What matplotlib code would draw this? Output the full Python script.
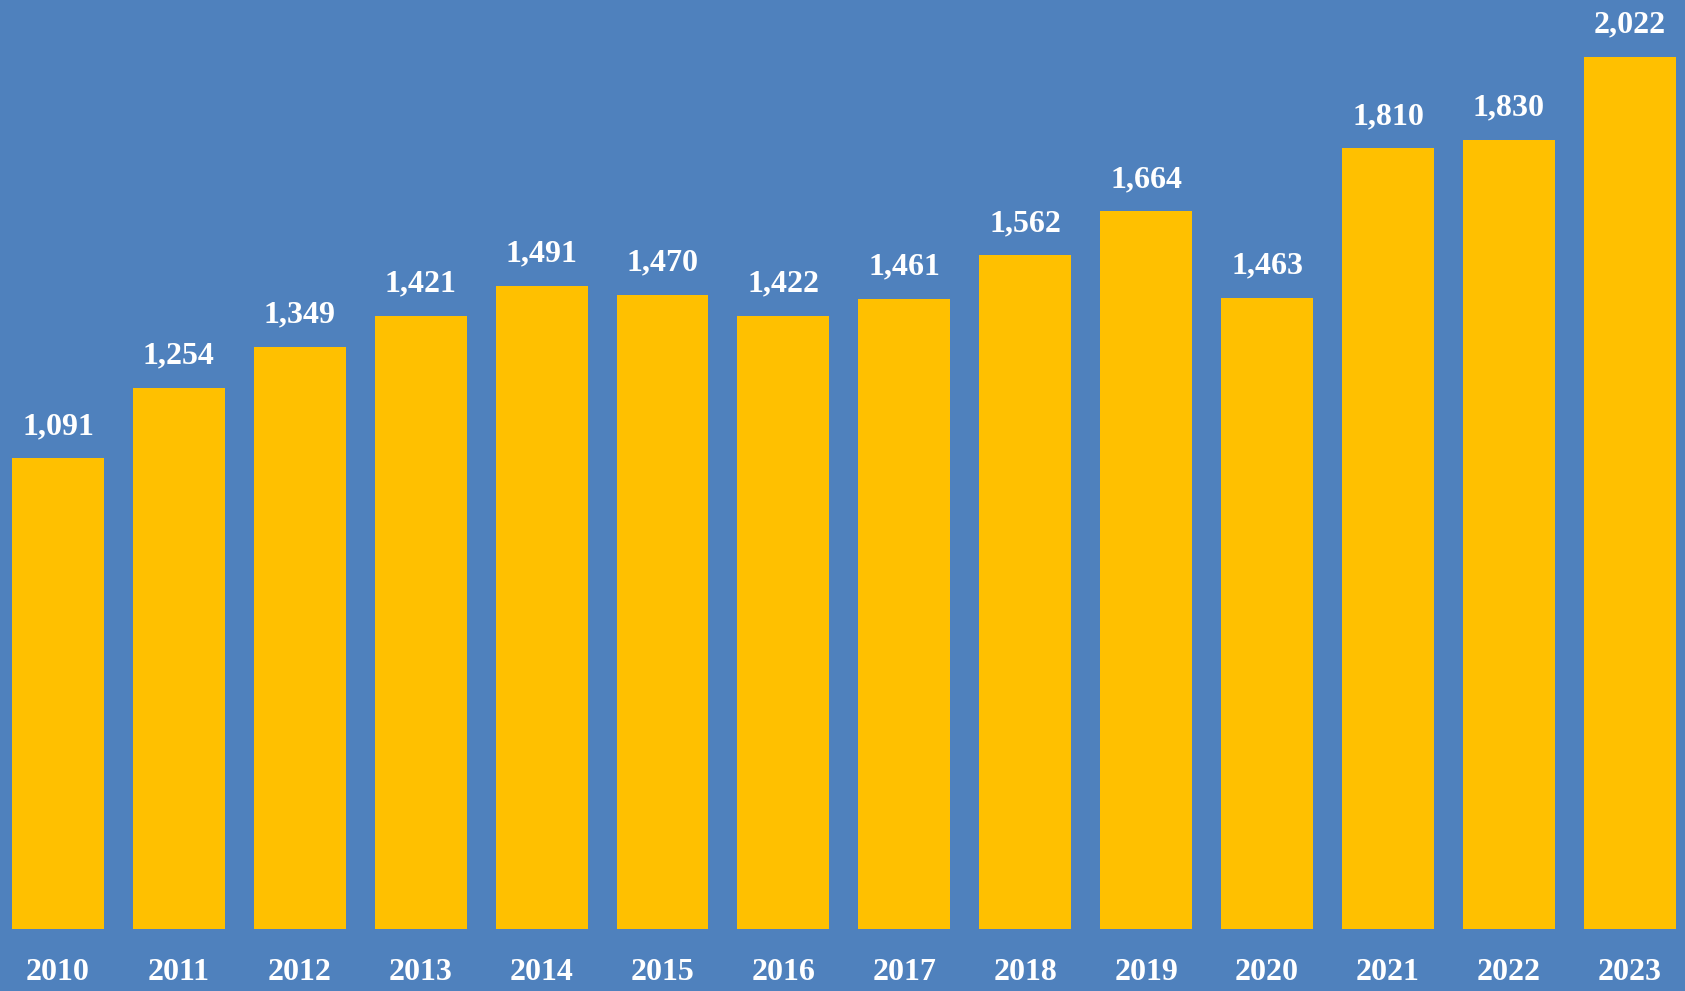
import matplotlib.pyplot as plt
from matplotlib.ticker import NullLocator

years = ['2010', '2011', '2012', '2013', '2014', '2015', '2016',
         '2017', '2018', '2019', '2020', '2021', '2022', '2023']
values = [1091, 1254, 1349, 1421, 1491, 1470, 1422,
          1461, 1562, 1664, 1463, 1810, 1830, 2022]

bg = '#4F81BD'
bar_color = '#FFC000'

plt.rcParams['font.family'] = ['Liberation Serif', 'DejaVu Serif']

fig = plt.figure(figsize=(16.85, 9.91), dpi=100, facecolor=bg)
ax = fig.add_axes([0, 62 / 991, 1, 929 / 991])
ax.set_facecolor(bg)

x = list(range(len(years)))
bars = ax.bar(x, values, width=0.76, color=bar_color)

for xi, v in zip(x, values):
    ax.annotate(f'{v:,}', (xi, v), xytext=(0, 17.5), textcoords='offset points',
                ha='center', va='baseline', color='white',
                fontsize=23, fontweight='bold')

ax.set_xlim(-0.48, 13.457)
ax.set_ylim(0, 2154)
ax.set_xticks(x)
ax.set_xticklabels(years, fontsize=23, fontweight='bold', color='white')
ax.tick_params(axis='x', length=0, pad=21)
ax.yaxis.set_major_locator(NullLocator())
for s in ax.spines.values():
    s.set_visible(False)

fig.savefig('out.png', dpi=100, facecolor=bg)
